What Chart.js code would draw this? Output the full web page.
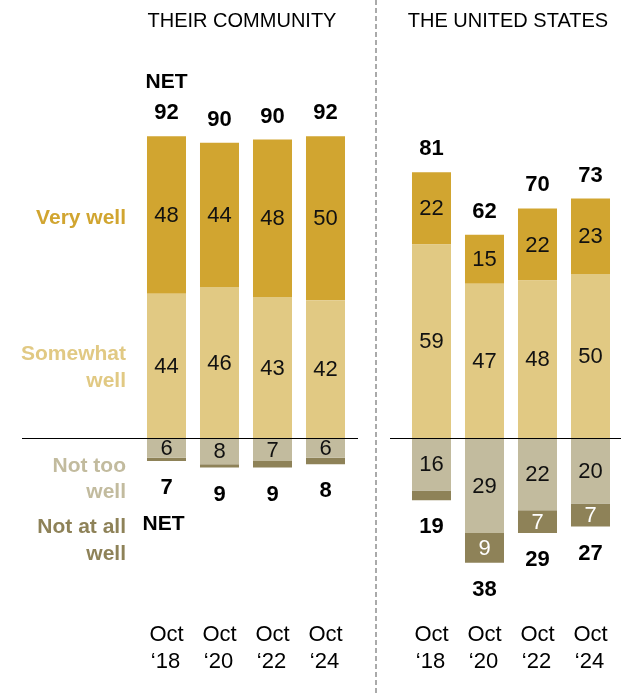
<!DOCTYPE html>
<html>
<head>
<meta charset="utf-8">
<title>How well things are going</title>
<script src="https://cdn.jsdelivr.net/npm/chart.js@4.4.1/dist/chart.umd.min.js"></script>
<style>
  html, body { margin: 0; padding: 0; background: #fff; }
  #chart { display: block; }
</style>
</head>
<body>
<canvas id="chart" width="621" height="696"></canvas>
<script>
// Survey waves, shown as two-line tick labels
const periods = [['Oct', '‘18'], ['Oct', '‘20'], ['Oct', '‘22'], ['Oct', '‘24']]

// How well things are going in their community (%)
const communityVeryWell = [48, 44, 48, 50]
const communitySomewhatWell = [44, 46, 43, 42]
const communityNotTooWell = [6, 8, 7, 6]
const communityNotAtAllWell = [1, 1, 2, 2]
const communityNetWell = [92, 90, 90, 92]
const communityNetNotWell = [7, 9, 9, 8]

// How well things are going in the United States (%)
const nationVeryWell = [22, 15, 22, 23]
const nationSomewhatWell = [59, 47, 48, 50]
const nationNotTooWell = [16, 29, 22, 20]
const nationNotAtAllWell = [3, 9, 7, 7]
const nationNetWell = [81, 62, 70, 73]
const nationNetNotWell = [19, 38, 29, 27]

const panelTitles = ['THEIR COMMUNITY', 'THE UNITED STATES']

const COLORS = {
  veryWell: '#D1A530',
  somewhatWell: '#E1C983',
  notTooWell: '#C2BB9E',
  notAtAllWell: '#8E8258'
}
const FONT = '"Liberation Sans", Arial, sans-serif'

// One empty slot separates the two panels
const joinPanels = (left, right) => [...left, null, ...right]
const labels = joinPanels(periods, periods)
const netWell = joinPanels(communityNetWell, nationNetWell)
const netNotWell = joinPanels(communityNetNotWell, nationNetNotWell)
const neg = (arr) => arr.map((v) => -v)

const datasets = [
  { key: 'somewhatWell', data: joinPanels(communitySomewhatWell, nationSomewhatWell), backgroundColor: COLORS.somewhatWell },
  { key: 'veryWell', data: joinPanels(communityVeryWell, nationVeryWell), backgroundColor: COLORS.veryWell },
  { key: 'notTooWell', data: joinPanels(neg(communityNotTooWell), neg(nationNotTooWell)), backgroundColor: COLORS.notTooWell },
  { key: 'notAtAllWell', data: joinPanels(neg(communityNotAtAllWell), neg(nationNotAtAllWell)), backgroundColor: COLORS.notAtAllWell, textColor: '#fff' }
]

const text = (ctx, str, x, y, { size = 22, weight = 'normal', color = '#000', align = 'center' } = {}) => {
  ctx.font = `${weight} ${size}px ${FONT}`
  ctx.fillStyle = color
  ctx.textAlign = align
  ctx.textBaseline = 'middle'
  ctx.fillText(str, x, y)
}

/**
 * Draws segment values, NET totals, row labels, period labels,
 * the zero lines and the dashed panel divider.
 */
const annotations = {
  id: 'annotations',
  afterDatasetsDraw (chart) {
    const { ctx, scales: { x, y } } = chart
    ctx.save()

    // segment values
    chart.data.datasets.forEach((ds, di) => {
      chart.getDatasetMeta(di).data.forEach((bar, i) => {
        const v = ds.data[i]
        if (v === null || Math.abs(v) < 5) return
        const { y: top, base } = bar.getProps(['y', 'base'], true)
        text(ctx, String(Math.abs(v)), bar.x, (top + base) / 2 + 1, { color: ds.textColor || '#111' })
      })
    })

    // NET totals above and below each bar
    const topMeta = chart.getDatasetMeta(1)
    const bottomMeta = chart.getDatasetMeta(3)
    labels.forEach((lab, i) => {
      if (!lab) return
      const upper = topMeta.data[i]
      const lower = bottomMeta.data[i]
      text(ctx, String(netWell[i]), upper.x, upper.y - 23, { weight: 'bold', size: 22 })
      text(ctx, String(netNotWell[i]), lower.x, lower.y + 27, { weight: 'bold', size: 22 })
      text(ctx, lab[0], upper.x, 635)
      text(ctx, lab[1], upper.x - 1, 662)
    })
    const first = topMeta.data[0]
    text(ctx, 'NET', first.x, 82, { weight: 'bold', size: 21 })
    text(ctx, 'NET', first.x - 3, 524, { weight: 'bold', size: 21 })

    // row labels
    const rowLabel = { size: 21, weight: 'bold', align: 'right' }
    text(ctx, 'Very well', 126, 218, { ...rowLabel, color: COLORS.veryWell })
    text(ctx, 'Somewhat', 126, 354, { ...rowLabel, color: COLORS.somewhatWell })
    text(ctx, 'well', 126, 381, { ...rowLabel, color: COLORS.somewhatWell })
    text(ctx, 'Not too', 126, 466, { ...rowLabel, color: COLORS.notTooWell })
    text(ctx, 'well', 126, 492, { ...rowLabel, color: COLORS.notTooWell })
    text(ctx, 'Not at all', 126, 527, { ...rowLabel, color: COLORS.notAtAllWell })
    text(ctx, 'well', 126, 554, { ...rowLabel, color: COLORS.notAtAllWell })

    // panel titles
    text(ctx, panelTitles[0], 242, 21, { size: 20 })
    text(ctx, panelTitles[1], 508, 21, { size: 20 })

    // zero lines
    const zero = Math.round(y.getPixelForValue(0)) + 0.5
    ctx.strokeStyle = '#000'
    ctx.lineWidth = 1
    ctx.beginPath()
    ctx.moveTo(22, zero)
    ctx.lineTo(358, zero)
    ctx.moveTo(390, zero)
    ctx.lineTo(621, zero)
    ctx.stroke()

    // dashed divider between panels
    ctx.strokeStyle = '#aaaaaa'
    ctx.lineWidth = 2
    ctx.setLineDash([5, 3])
    ctx.beginPath()
    ctx.moveTo(376, 0)
    ctx.lineTo(376, 696)
    ctx.stroke()

    ctx.restore()
  }
}

new Chart(document.getElementById('chart'), {
  type: 'bar',
  data: {
    labels,
    datasets: datasets.map((ds) => ({
      ...ds,
      borderWidth: 0,
      barPercentage: 0.736,
      categoryPercentage: 1
    }))
  },
  options: {
    responsive: false,
    animation: false,
    layout: { padding: { left: 140, right: 4, top: 110, bottom: 94 } },
    plugins: {
      legend: { display: false },
      tooltip: { enabled: false }
    },
    scales: {
      x: { display: false, stacked: true },
      y: { display: false, stacked: true, min: -50, max: 100 }
    }
  },
  plugins: [annotations]
})
</script>
</body>
</html>
